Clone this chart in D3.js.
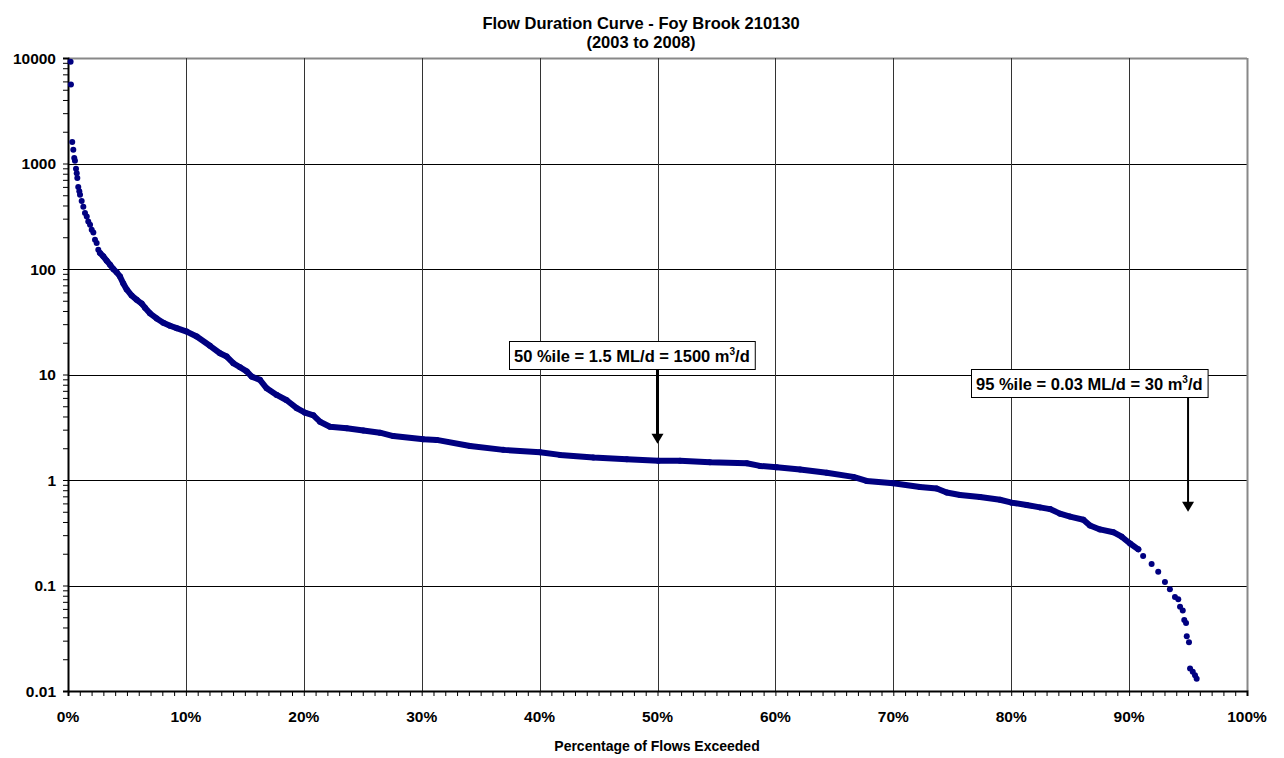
<!DOCTYPE html>
<html>
<head>
<meta charset="utf-8">
<title>Flow Duration Curve</title>
<script src="https://d3js.org/d3.v7.min.js"></script>
<style>
body { margin: 0; background: #fff; }
text { font-family: "Liberation Sans", Arial, sans-serif; font-weight: bold; fill: #000; }
</style>
</head>
<body>
<script type="text/javascript">

var width = 1284,
    height = 758;

var margin = { left: 68, right: 37, top: 58, bottom: 67 };

// percentage of flows exceeded
var pctExceeded = [
  0.22, 0.25, 0.36, 0.45, 0.53, 0.59, 0.68, 0.74, 0.79, 0.87, 0.96, 1.02, 1.16, 1.30, 1.44,
  1.59, 1.72, 1.87, 2.01, 2.15, 2.29, 2.43, 2.57, 2.71, 2.99, 3.28, 3.56, 3.84, 4.13, 4.41,
  4.69, 4.98, 5.40, 5.83, 6.25, 6.53, 6.95, 7.52, 8.08, 8.65, 9.22, 10.07, 10.92, 12.04, 12.89,
  13.46, 14.02, 14.59, 15.16, 15.58, 16.28, 16.85, 17.70, 18.55, 19.40, 20.10, 20.81, 21.37, 22.22, 23.64,
  25.05, 26.46, 27.59, 30.14, 31.27, 34.10, 36.92, 40.03, 41.73, 44.56, 47.39, 50.07, 51.91, 54.45, 57.57,
  58.69, 60.11, 62.09, 64.35, 66.61, 67.74, 70.00, 72.26, 73.68, 74.53, 75.66, 77.35, 79.05, 80.04, 81.31,
  82.44, 83.29, 84.14, 84.99, 86.12, 86.68, 87.53, 88.66, 89.37, 90.08, 90.78, 91.19, 91.91, 92.47, 93.04,
  93.46, 93.89, 94.17, 94.32, 94.55, 94.68, 94.83, 94.89, 95.08, 95.17, 95.40, 95.59, 95.73
];

// flow in ML/d
var flowML = [
  9200, 5600, 1600, 1350, 1130, 1060, 890, 810, 730, 600, 545, 505, 440, 390, 340,
  315, 282, 263, 235, 222, 189, 176, 152, 142, 132, 120, 110, 100, 93, 85,
  73, 64, 56, 51, 47, 43, 38, 34, 31, 29, 27.5, 25.5, 22.9, 18.7, 15.9,
  14.8, 12.8, 11.7, 10.7, 9.55, 8.9, 7.4, 6.4, 5.7, 4.8, 4.35, 4.1, 3.57, 3.2, 3.1,
  2.94, 2.81, 2.61, 2.43, 2.40, 2.1, 1.93, 1.83, 1.73, 1.63, 1.57, 1.52, 1.52, 1.47, 1.44,
  1.36, 1.32, 1.26, 1.17, 1.07, 0.98, 0.93, 0.86, 0.83, 0.76, 0.72, 0.69, 0.65, 0.61, 0.58,
  0.55, 0.53, 0.48, 0.45, 0.42, 0.37, 0.34, 0.32, 0.29, 0.25, 0.22, 0.19, 0.16, 0.135, 0.108,
  0.092, 0.078, 0.074, 0.063, 0.058, 0.047, 0.044, 0.033, 0.029, 0.0163, 0.0152, 0.0141, 0.0131
];

var xTicks = [0, 10, 20, 30, 40, 50, 60, 70, 80, 90, 100];
var yTicks = [0.01, 0.1, 1, 10, 100, 1000, 10000];
var yTickLabels = ["0.01", "0.1", "1", "10", "100", "1000", "10000"];

var titleLines = ["Flow Duration Curve - Foy Brook 210130", "(2003 to 2008)"];
var xTitle = "Percentage of Flows Exceeded";

// annotations: percentile, arrow tip flow, label parts
var notePct = [50, 95];
var noteTipFlow = [2.2, 0.5];
var noteText = ["50 %ile = 1.5 ML/d = 1500 m", "95 %ile = 0.03 ML/d = 30 m"];

var data = pctExceeded.map(function(p, i) { return { pct: p, flow: flowML[i] }; });

var x = d3.scaleLinear().domain([0, 100]).range([margin.left, width - margin.right]);
var y = d3.scaleLog().domain([0.01, 10000]).range([height - margin.bottom, margin.top]);

var svg = d3.select("body").append("svg")
    .attr("width", width)
    .attr("height", height);

// gridlines
svg.append("g").selectAll("line")
    .data(yTicks.slice(1))
    .enter().append("line")
    .attr("x1", x(0)).attr("x2", x(100))
    .attr("y1", function(d) { return Math.round(y(d)) + 0.5; })
    .attr("y2", function(d) { return Math.round(y(d)) + 0.5; })
    .style("stroke", function(d) { return d === 10000 ? "#888" : "#000"; })
    .style("stroke-width", function(d) { return d === 10000 ? 2 : 1; });

svg.append("g").selectAll("line")
    .data(xTicks.slice(1))
    .enter().append("line")
    .attr("x1", function(d) { return Math.round(x(d)) + 0.5; })
    .attr("x2", function(d) { return Math.round(x(d)) + 0.5; })
    .attr("y1", y(10000)).attr("y2", y(0.01))
    .style("stroke", function(d) { return d === 100 ? "#888" : "#333"; })
    .style("stroke-width", function(d) { return d === 100 ? 2 : 1; });

// x axis with 1% minor ticks
var xAxis = d3.axisBottom(x)
    .tickValues(d3.range(0, 101, 1))
    .tickSize(5)
    .tickFormat("");
var gx = svg.append("g")
    .attr("transform", "translate(0," + y(0.01) + ")")
    .call(xAxis);
gx.select(".domain").style("stroke", "#000").style("stroke-width", 2);
gx.selectAll(".tick line").style("stroke", "#000");

svg.append("g").selectAll("text")
    .data(xTicks)
    .enter().append("text")
    .attr("x", function(d) { return x(d); })
    .attr("y", 722)
    .attr("text-anchor", "middle")
    .style("font-size", "15.5px")
    .text(function(d) { return d + "%"; });

// y axis, log minor ticks
var minor = [];
yTicks.forEach(function(t) {
  if (t < 10000) for (var k = 2; k <= 9; k++) minor.push(t * k);
});
var yAxis = d3.axisLeft(y)
    .tickValues(yTicks.concat(minor))
    .tickSize(5)
    .tickFormat("");
var gy = svg.append("g")
    .attr("transform", "translate(" + x(0) + ",0)")
    .call(yAxis);
gy.select(".domain").style("stroke", "#000").style("stroke-width", 2);
gy.selectAll(".tick line").style("stroke", "#000");

svg.append("g").selectAll("text")
    .data(yTicks)
    .enter().append("text")
    .attr("x", 56)
    .attr("y", function(d) { return y(d) + 5.5; })
    .attr("text-anchor", "end")
    .style("font-size", "15.5px")
    .text(function(d, i) { return yTickLabels[i]; });

// curve: continuous run drawn as a thick line, plus every reading as a dot
var navy = "#000080";
var line = d3.line()
    .x(function(d) { return x(d.pct); })
    .y(function(d) { return y(d.flow); });

svg.append("path")
    .datum(data.filter(function(d) { return d.pct >= 2.7 && d.pct <= 91; }))
    .attr("d", line)
    .style("fill", "none")
    .style("stroke", navy)
    .style("stroke-width", 6)
    .style("stroke-linejoin", "round")
    .style("stroke-linecap", "round");

svg.append("g").selectAll("circle")
    .data(data)
    .enter().append("circle")
    .attr("cx", function(d) { return x(d.pct); })
    .attr("cy", function(d) { return y(d.flow); })
    .attr("r", 3)
    .style("fill", navy);

// titles
svg.append("g").selectAll("text")
    .data(titleLines)
    .enter().append("text")
    .attr("x", 641)
    .attr("y", function(d, i) { return 29 + i * 19; })
    .attr("text-anchor", "middle")
    .style("font-size", "16.5px")
    .text(function(d) { return d; });

svg.append("text")
    .attr("x", 657)
    .attr("y", 751)
    .attr("text-anchor", "middle")
    .style("font-size", "14px")
    .text(xTitle);

// annotation boxes with arrows
var boxLeft = [509, 971],
    boxTop = [341, 369],
    arrowWidth = [3, 2];

notePct.forEach(function(p, i) {
  var g = svg.append("g");
  var rect = g.append("rect")
      .style("fill", "#fff")
      .style("stroke", "#000")
      .style("stroke-width", 1);
  var t = g.append("text")
      .attr("x", boxLeft[i] + 5)
      .attr("y", boxTop[i] + 21)
      .style("font-size", "16.5px");
  t.append("tspan").text(noteText[i]);
  t.append("tspan").attr("dy", -7).style("font-size", "10px").text("3");
  t.append("tspan").attr("dy", 7).text("/d");
  var bb = t.node().getBBox();
  rect.attr("x", boxLeft[i] + 0.5)
      .attr("y", boxTop[i] + 0.5)
      .attr("width", bb.width + 10)
      .attr("height", 28);

  var ax = x(p), tip = y(noteTipFlow[i]);
  g.append("line")
      .attr("x1", ax).attr("x2", ax)
      .attr("y1", boxTop[i] + 29).attr("y2", tip - 8)
      .style("stroke", "#000")
      .style("stroke-width", arrowWidth[i]);
  g.append("path")
      .attr("d", "M" + (ax - 6) + "," + (tip - 10) + "L" + (ax + 6) + "," + (tip - 10) + "L" + ax + "," + tip + "Z")
      .style("fill", "#000");
});

</script>
</body>
</html>
